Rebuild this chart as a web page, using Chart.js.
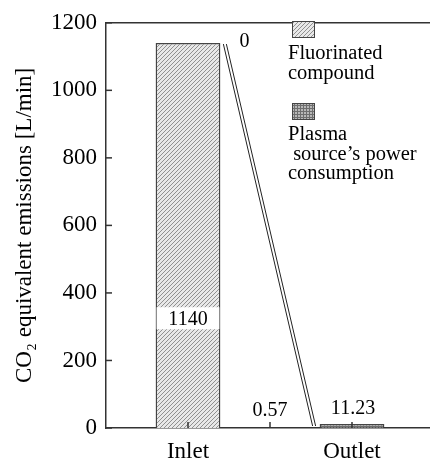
<!DOCTYPE html>
<html>
<head>
<meta charset="utf-8">
<script src="https://cdn.jsdelivr.net/npm/chart.js@4"></script>
<style>
html,body{margin:0;padding:0;background:#fff;overflow:hidden;}
#wrap{width:434px;height:464px;}
</style>
</head>
<body>
<div id="wrap"><canvas id="c" width="434" height="464"></canvas></div>
<script>
const categories = ["Inlet", "Outlet"];
const fluorinated = [1140, 0.57];
const plasmaPower = [0, 11.23];
const yTicks = [0, 200, 400, 600, 800, 1000, 1200];
const seriesNames = ["Fluorinated\ncompound", "Plasma\n source\u2019s power\nconsumption"];
const yTitle = "CO\u2082 equivalent emissions [L/min]";

const FONT = "'Liberation Serif', 'Times New Roman', serif";

function hatchPattern() {
  const c = document.createElement('canvas');
  c.width = 4; c.height = 4;
  const g = c.getContext('2d');
  g.fillStyle = '#e8e8e8'; g.fillRect(0, 0, 4, 4);
  g.strokeStyle = '#909090'; g.lineWidth = 1;
  g.beginPath();
  g.moveTo(-1, 5); g.lineTo(5, -1);
  g.moveTo(-1, 1); g.lineTo(1, -1);
  g.moveTo(3, 5); g.lineTo(5, 3);
  g.stroke();
  return g.createPattern(c, 'repeat');
}
function crossPattern() {
  const c = document.createElement('canvas');
  c.width = 3; c.height = 3;
  const g = c.getContext('2d');
  g.fillStyle = '#b8b8b8'; g.fillRect(0, 0, 3, 3);
  g.fillStyle = '#6e6e6e';
  g.fillRect(0, 0, 3, 1);
  g.fillRect(0, 0, 1, 3);
  return g.createPattern(c, 'repeat');
}
const hatch = hatchPattern();
const cross = crossPattern();

const decor = {
  id: 'decor',
  afterDatasetsDraw(chart) {
    const ctx = chart.ctx;
    const a = chart.chartArea;
    const xs = chart.scales.x, ys = chart.scales.y;
    ctx.save();
    ctx.strokeStyle = '#333'; ctx.lineWidth = 1.5;
    // top frame line
    ctx.beginPath(); ctx.moveTo(a.left, a.top); ctx.lineTo(a.right + 5, a.top); ctx.stroke();
    // y ticks inward
    yTicks.forEach(v => {
      const y = ys.getPixelForValue(v);
      ctx.beginPath(); ctx.moveTo(a.left, y); ctx.lineTo(a.left + 6, y); ctx.stroke();
    });
    // x ticks at categories and between
    const xTickPos = [];
    categories.forEach((c, i) => { xTickPos.push(xs.getPixelForValue(i)); });
    xTickPos.push((xs.getPixelForValue(0) + xs.getPixelForValue(1)) / 2);
    xTickPos.forEach(x => {
      ctx.beginPath(); ctx.moveTo(x, a.bottom); ctx.lineTo(x, a.bottom - 6); ctx.stroke();
    });

    const m0 = chart.getDatasetMeta(0).data;
    const m1 = chart.getDatasetMeta(1).data;
    // connector double line from inlet top to outlet
    const x1 = m0[0].x + m0[0].width / 2 + 4, y1 = ys.getPixelForValue(fluorinated[0]) + 1;
    const x2 = m0[1].x - m0[1].width / 2 - 6, y2 = ys.getPixelForValue(fluorinated[1] + plasmaPower[1]) + 2;
    ctx.lineWidth = 1; ctx.strokeStyle = '#222';
    [0, 3].forEach(d => {
      ctx.beginPath(); ctx.moveTo(x1 + d - 1, y1); ctx.lineTo(x2 + d - 1, y2); ctx.stroke();
    });

    // data labels
    ctx.font = '20px ' + FONT;
    ctx.fillStyle = '#000';
    ctx.textAlign = 'center'; ctx.textBaseline = 'middle';
    // 1140 in white band inside inlet bar
    const bl = m0[0].x - m0[0].width / 2 + 1, bw = m0[0].width - 2;
    const yl = ys.getPixelForValue(325);
    ctx.fillStyle = '#fff';
    ctx.fillRect(bl, yl - 11, bw, 22);
    ctx.fillStyle = '#000';
    ctx.fillText(String(fluorinated[0]), m0[0].x, yl + 1);
    // inlet plasma value 0
    ctx.fillText(String(plasmaPower[0]), m0[0].x + m0[0].width / 2 + 24, ys.getPixelForValue(fluorinated[0]) - 1);
    // outlet fluorinated 0.57
    ctx.fillText(String(fluorinated[1]), xTickPos[2], ys.getPixelForValue(fluorinated[1]) - 17);
    // outlet plasma 11.23
    ctx.fillText(plasmaPower[1].toFixed(2), m1[1].x + 1, ys.getPixelForValue(fluorinated[1] + plasmaPower[1]) - 15);

    // legend
    const lx = 292;
    const items = [
      { fill: hatch, boxY: 21, textY: 54 },
      { fill: cross, boxY: 103, textY: 135 }
    ];
    ctx.font = '20.5px ' + FONT;
    items.forEach((it, k) => {
      ctx.fillStyle = it.fill;
      ctx.fillRect(lx, it.boxY, 22, 16);
      ctx.strokeStyle = '#444'; ctx.lineWidth = 1;
      ctx.strokeRect(lx + 0.5, it.boxY + 0.5, 22, 16);
      ctx.fillStyle = '#000';
      ctx.textAlign = 'left';
      seriesNames[k].split('\n').forEach((line, j) => {
        ctx.fillText(line, 288, it.textY + j * 19.5);
      });
    });
    ctx.restore();
  }
};

new Chart(document.getElementById('c'), {
  type: 'bar',
  data: {
    labels: categories,
    datasets: [
      { label: 'Fluorinated compound', data: fluorinated, backgroundColor: hatch, borderColor: '#444', borderWidth: 1.5, borderSkipped: 'bottom' },
      { label: 'Plasma source\u2019s power consumption', data: plasmaPower, backgroundColor: cross, borderColor: '#444', borderWidth: 1.5, borderSkipped: 'bottom' }
    ]
  },
  options: {
    responsive: false,
    animation: false,
    devicePixelRatio: 1,
    layout: { padding: { left: 0, right: 0, top: 18, bottom: 0 } },
    plugins: { legend: { display: false }, tooltip: { enabled: false } },
    datasets: { bar: { categoryPercentage: 1, barPercentage: 0.395 } },
    scales: {
      x: {
        stacked: true,
        grid: { display: false, drawTicks: false },
        border: { display: true, color: '#333', width: 1.5 },
        ticks: { color: '#000', font: { family: FONT, size: 23 }, padding: 10 },
        afterFit(s) { s.height = 36; }
      },
      y: {
        stacked: true,
        min: 0, max: 1200,
        grid: { display: false, drawTicks: false },
        border: { display: true, color: '#333', width: 1.5 },
        ticks: { stepSize: 200, color: '#000', font: { family: FONT, size: 23 }, padding: 9,
                 callback: (v) => String(v) },
        title: { display: true, text: yTitle, color: '#000', font: { family: FONT, size: 23 }, padding: { top: 11, bottom: 0 } },
        afterFit(s) { s.width = 106; }
      }
    }
  },
  plugins: [decor]
});
</script>
</body>
</html>
